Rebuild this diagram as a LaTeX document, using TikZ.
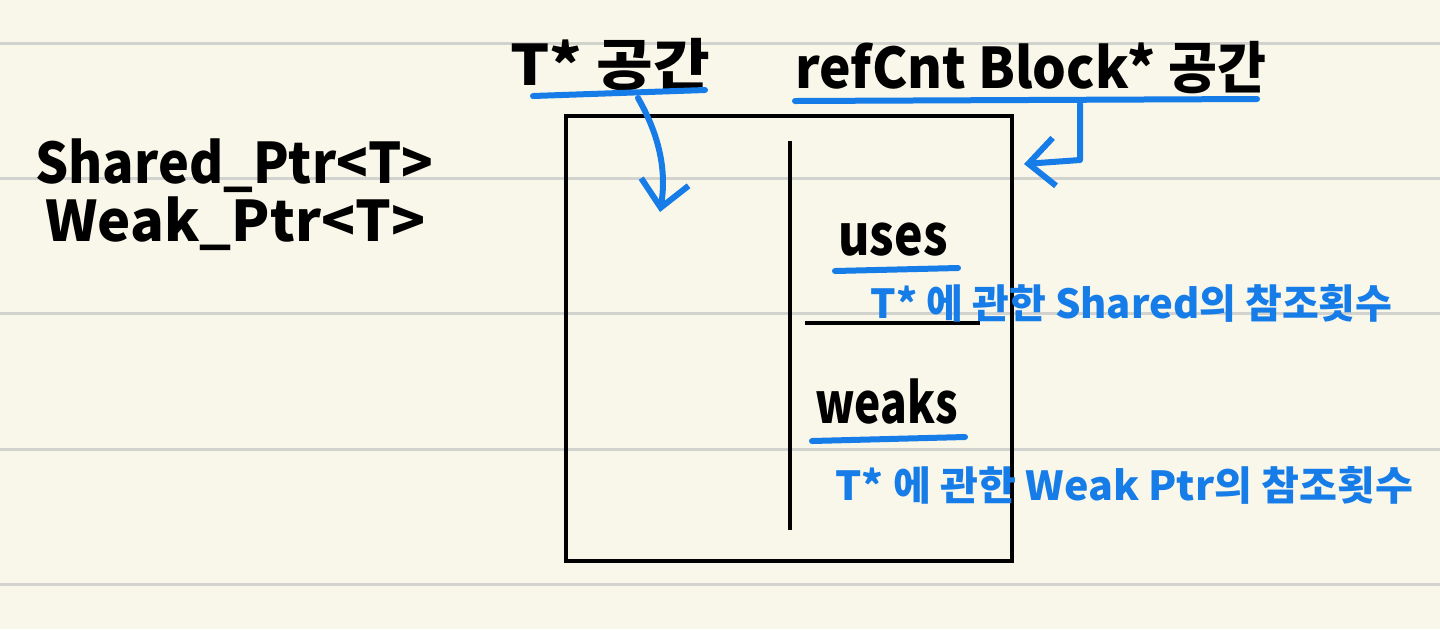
\documentclass[tikz,border=0pt]{standalone}
\usepackage{fontspec}
\setmainfont{Noto Sans CJK KR}
\usetikzlibrary{arrows.meta}
\definecolor{paper}{RGB}{249,247,234}
\definecolor{ruling}{RGB}{210,210,206}
\definecolor{pen}{RGB}{22,124,232}
\tikzset{
  ink/.style={black, line width=2pt},
  hilite/.style={pen, line width=3pt, line cap=round, line join=round},
  barb/.style={hilite, -{Straight Barb[length=13pt,width=24pt]}},
  note/.style={anchor=base west, inner sep=0pt, transform shape, font=\bfseries\fontsize{28}{30}\selectfont},
  memo/.style={anchor=base west, inner sep=0pt, transform shape, text=pen, font=\bfseries\fontsize{20}{22}\selectfont}
}
\begin{document}
\begin{tikzpicture}[x=.5pt,y=-.5pt]
% paper and ruled lines
\fill[paper] (0,0) rectangle (1440,629);
\useasboundingbox (0,0) rectangle (1440,629);
\foreach \ly in {43,178,313,449,584}
  \draw[ruling, line width=1.5pt] (0,\ly) -- (1440,\ly);

% left labels
\node[note, xscale=.93] (sptr) at (35,183) {Shared\_Ptr<T>};
\node[note] (wptr) at (45,241) {Weak\_Ptr<T>};

% headings
\node[note, xscale=1.1] (tspace) at (510,85) {T* 공간};
\node[note, xscale=.95] (rspace) at (795,88) {refCnt Block* 공간};

% the block
\draw[ink] (566,116) rectangle (1012,561);
\draw[ink] (790,141) -- (790,530); % divider
\draw[ink] (805,323) -- (980,323); % uses / weaks

\node[note, xscale=.86] (uses) at (838,255) {uses};
\node[note, xscale=.79] (weaks) at (815,423) {weaks};
\node[memo] (usesnote) at (870,318) {T* 에 관한 Shared의 참조횟수};
\node[memo, xscale=1.03] (weaksnote) at (835,500) {T* 에 관한 Weak Ptr의 참조횟수};

% blue underlines
\draw[hilite] (533,96) -- (705,90);
\draw[hilite] (795,101) -- (1257,99);
\draw[hilite] (835,271) -- (958,268);
\draw[hilite] (812,441) -- (965,437);

% arrows into the block
\coordinate (tfrom) at (638,98);
\coordinate (tto) at (660,212);
\draw[barb] (tfrom) .. controls (662,140) and (666,175) .. (tto);
\coordinate (rfrom) at (1080,104);
\coordinate (rbend) at (1080,160);
\coordinate (rto) at (1024,164);
\draw[barb] (rfrom) -- (rbend) -- (rto);
\end{tikzpicture}
\end{document}
